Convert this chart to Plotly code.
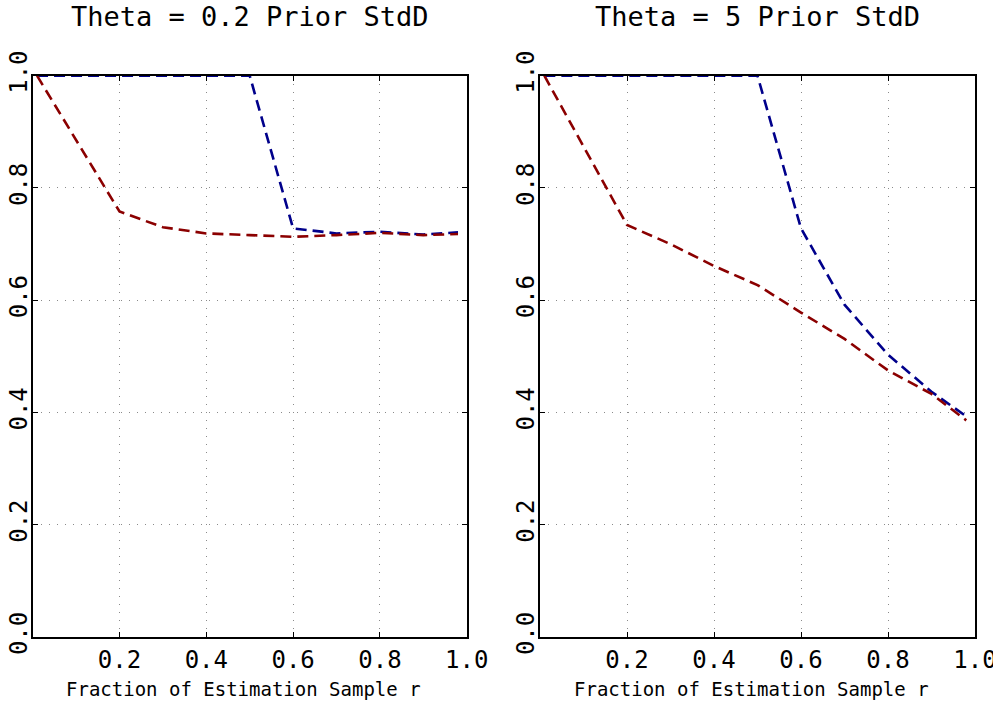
import plotly.graph_objects as go

# ---- data ----
r_values = [0.01, 0.2, 0.3, 0.4, 0.5, 0.6, 0.7, 0.8, 0.9, 0.98]
left_blue = [1.0, 1.0, 1.0, 1.0, 1.0, 0.728, 0.719, 0.722, 0.717, 0.721]
left_red = [1.0, 0.758, 0.730, 0.719, 0.716, 0.713, 0.716, 0.720, 0.716, 0.718]
right_blue = [1.0, 1.0, 1.0, 1.0, 1.0, 0.728, 0.592, 0.503, 0.437, 0.393]
right_red = [1.0, 0.734, 0.700, 0.661, 0.627, 0.578, 0.531, 0.475, 0.433, 0.386]

titles = ["Theta = 0.2 Prior StdD", "Theta = 5 Prior StdD"]
x_title = "Fraction of Estimation Sample r"
x_tickvals = [0.0, 0.2, 0.4, 0.6, 0.8, 1.0]
x_ticktext = ["", "0.2", "0.4", "0.6", "0.8", "1.0"]
y_tickvals = [0.0, 0.2, 0.4, 0.6, 0.8, 1.0]
y_ticktext = ["0.0", "0.2", "0.4", "0.6", "0.8", "1.0"]

BLUE = "#00008B"
RED = "#8B0000"
FONT = "DejaVu Sans Mono"
DASH = "11px,6px"

fig = go.Figure()
for xa, ya, blue, red in [("x", "y", left_blue, left_red), ("x2", "y2", right_blue, right_red)]:
    fig.add_trace(go.Scatter(x=r_values, y=blue, xaxis=xa, yaxis=ya, mode="lines",
                             line=dict(color=BLUE, width=2.6, dash=DASH), showlegend=False))
    fig.add_trace(go.Scatter(x=r_values, y=red, xaxis=xa, yaxis=ya, mode="lines",
                             line=dict(color=RED, width=2.6, dash=DASH), showlegend=False))

W, H = 993, 702


def px(xp):
    return xp / W


def py(yp):
    return (H - yp) / H


yd = [py(637), py(75.7)]
xd1 = [px(32.7), px(466.7)]
xd2 = [px(540), px(975)]

common_x = dict(range=[0, 1], tickvals=x_tickvals, ticktext=x_ticktext,
                showline=True, linewidth=2, linecolor="black", mirror="ticks",
                ticks="inside", ticklen=5, tickwidth=1, tickcolor="black",
                showgrid=True, gridcolor="#8a8a8a", gridwidth=1, griddash="1px,7px",
                zeroline=False, tickfont=dict(family=FONT, size=24, color="black"),
                ticklabeloverflow="allow", automargin=False)
common_y = dict(range=[0, 1], tickvals=y_tickvals, ticktext=y_ticktext,
                showline=True, linewidth=2, linecolor="black", mirror="ticks",
                ticks="inside", ticklen=5, tickwidth=1, tickcolor="black",
                showgrid=True, gridcolor="#8a8a8a", gridwidth=1, griddash="1px,7px",
                zeroline=False, tickangle=-90, ticklabelstandoff=-6,
                tickfont=dict(family=FONT, size=24, color="black"),
                ticklabeloverflow="allow", automargin=False)

fig.update_layout(
    width=W, height=H,
    margin=dict(l=0, r=0, t=0, b=0),
    paper_bgcolor="white", plot_bgcolor="white",
    xaxis=dict(domain=xd1, anchor="y", **common_x),
    yaxis=dict(domain=yd, anchor="x", **common_y),
    xaxis2=dict(domain=xd2, anchor="y2", **common_x),
    yaxis2=dict(domain=yd, anchor="x2", **common_y),
)

for i, xdom in enumerate([xd1, xd2]):
    cx = (xdom[0] + xdom[1]) / 2
    fig.add_annotation(text=titles[i], xref="paper", yref="paper", x=cx, y=py(17),
                       showarrow=False, xanchor="center", yanchor="middle",
                       font=dict(family=FONT, size=27, color="black"))
    fig.add_annotation(text=x_title, xref="paper", yref="paper", x=cx - 6 / W, y=py(689),
                       showarrow=False, xanchor="center", yanchor="middle",
                       font=dict(family=FONT, size=19, color="black"))

fig.write_html("out.html", config={"displayModeBar": False},
               post_script="document.body.style.margin='0';document.body.style.overflow='hidden';")
